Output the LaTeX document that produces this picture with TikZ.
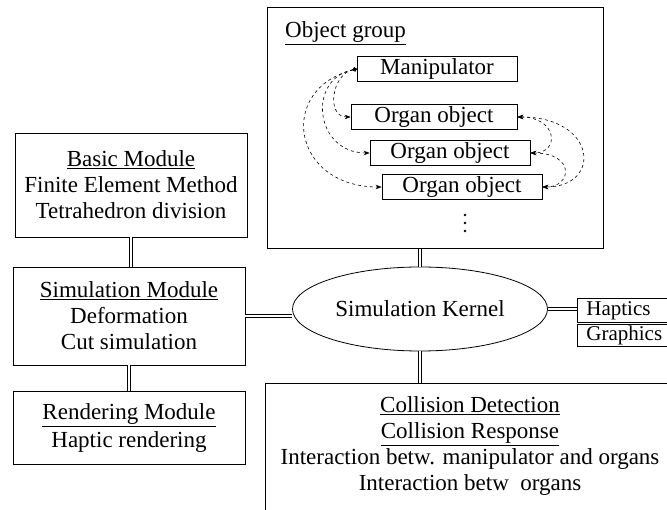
\documentclass[tikz,border=0pt]{standalone}
\usepackage{fontspec}
\setmainfont{Liberation Serif}
\usetikzlibrary{arrows.meta,shapes.geometric}

\tikzset{
  module/.style={draw, line width=0.8pt, minimum width=232, align=center, inner sep=0pt},
  obj/.style={draw, line width=0.7pt, minimum width=160, minimum height=25, inner sep=0pt},
  outbox/.style={draw, line width=0.8pt, anchor=north west, text width=78, inner xsep=9pt, inner ysep=0pt, align=left, font=\fontsize{21}{24}\selectfont},
  rel/.style={dashed, line width=0.6pt},
  link/.style={double, double distance=2.5pt, line width=0.6pt}
}

\begin{document}
\begin{tikzpicture}[x=1pt, y=-1pt, >=stealth, font=\fontsize{23}{26}\selectfont]
  \useasboundingbox (0,0) rectangle (667,510);
  \clip (0,0) rectangle (667,510);

  % Object group
  \node[draw, line width=0.8pt, anchor=north west, minimum width=336, minimum height=241] (group) at (267,7) {};
  \node[anchor=west, inner sep=0pt] (grouptitle) at (285,33) {\underline{Object group}};
  \node[obj] (manip) at (437,69) {Manipulator};
  \node[obj, minimum width=166] (org1) at (434,117) {Organ object};
  \node[obj] (org2) at (450,153) {Organ object};
  \node[obj] (org3) at (462,187) {Organ object};
  \coordinate (more) at (465,223);
  \foreach \dy in {-8,0,8}
    \fill (more) ++(0,\dy) circle (1.3);
  \draw[rel, {Circle[length=4pt]}-{Stealth[length=6pt]}] (manip.west) .. controls +(-25,5) and +(-25,0) .. (org1.west);
  \draw[rel, {Circle[length=4pt]}-{Stealth[length=6pt]}] (manip.west) .. controls +(-50,10) and +(-55,0) .. (org2.west);
  \draw[rel, {Circle[length=4pt]}-{Stealth[length=6pt]}] (manip.west) .. controls +(-80,20) and +(-90,0) .. (org3.west);
  \draw[rel, {Stealth[length=6pt]}-{Stealth[length=6pt]}] (org1.east) .. controls +(40,0) and +(30,0) .. (org2.east);
  \draw[rel, {Stealth[length=6pt]}-{Stealth[length=6pt]}] (org2.east) .. controls +(45,0) and +(30,0) .. (org3.east);
  \draw[rel, {Stealth[length=6pt]}-{Stealth[length=6pt]}] (org1.east) .. controls +(80,0) and +(60,0) .. (org3.east);

  % Modules on the left
  \node[module, minimum height=104] (basic) at (131,185) {\underline{Basic Module}\\Finite Element Method\\Tetrahedron division};
  \node[module, minimum height=98] (sim) at (129,316) {\underline{Simulation Module}\\Deformation\\Cut simulation};
  \node[module, minimum height=73] (render) at (129,428) {\underline{Rendering Module}\\[2pt]Haptic rendering};

  % Kernel and outputs
  \node[draw, ellipse, line width=0.8pt, minimum width=255, minimum height=84, inner sep=0pt] (kernel) at (420,309) {Simulation Kernel};
  \node[outbox, minimum height=24] (haptics) at (577,298) {Haptics};
  \node[outbox, minimum height=22] (graphics) at (577,324) {Graphics};

  % Collision box
  \node[draw, line width=0.8pt, anchor=north west, minimum width=440, minimum height=150] (coll) at (265,383) {};
  \node[align=center, inner sep=0pt] (colltext) at (470,446) {\underline{Collision Detection}\\\underline{Collision Response}\\Interaction betw. manipulator and organs\\Interaction betw\ \ organs};

  % Connections
  \draw[link] (basic.south) -- (basic.south |- sim.north);
  \draw[link] (sim.south) -- (sim.south |- render.north);
  \draw[link] (sim.east) -- (sim.east -| kernel.west);
  \draw[link] (kernel.north) -- (kernel.north |- group.south);
  \draw[link] (kernel.south) -- (kernel.south |- coll.north);
  \draw[link] (kernel.east) -- (kernel.east -| haptics.west);
\end{tikzpicture}
\end{document}
